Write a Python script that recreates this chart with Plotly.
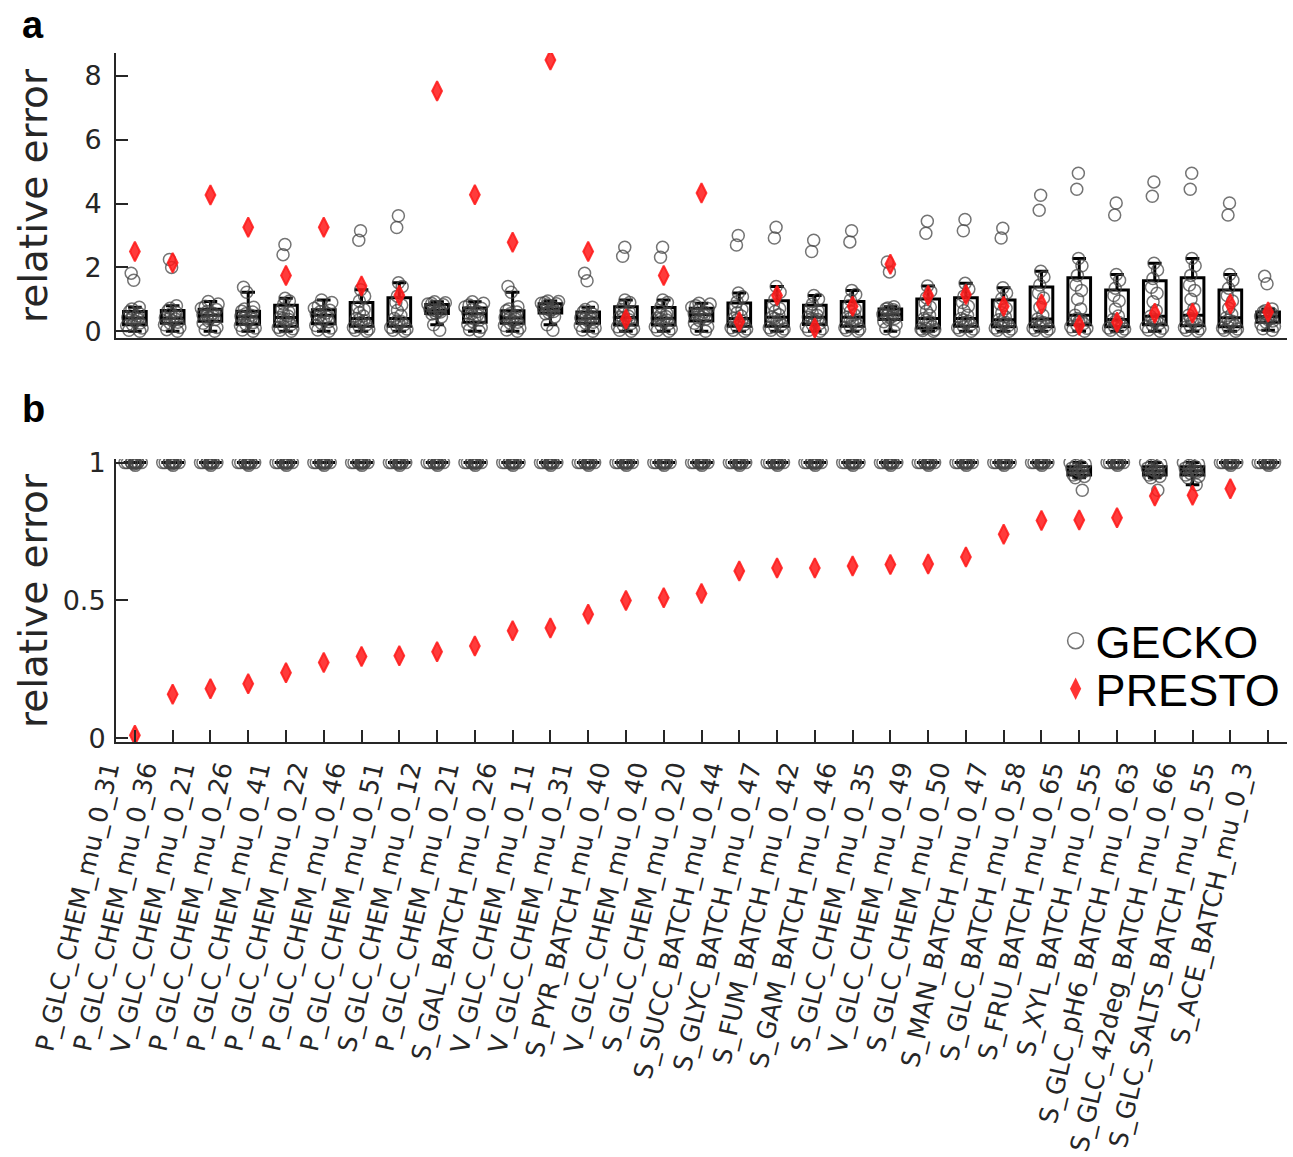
import plotly.graph_objects as go

categories = [
    "P_GLC_CHEM_mu_0_31", "P_GLC_CHEM_mu_0_36", "V_GLC_CHEM_mu_0_21", "P_GLC_CHEM_mu_0_26",
    "P_GLC_CHEM_mu_0_41", "P_GLC_CHEM_mu_0_22", "P_GLC_CHEM_mu_0_46", "P_GLC_CHEM_mu_0_51",
    "S_GLC_CHEM_mu_0_12", "P_GLC_CHEM_mu_0_21", "S_GAL_BATCH_mu_0_26", "V_GLC_CHEM_mu_0_11",
    "V_GLC_CHEM_mu_0_31", "S_PYR_BATCH_mu_0_40", "V_GLC_CHEM_mu_0_40", "S_GLC_CHEM_mu_0_20",
    "S_SUCC_BATCH_mu_0_44", "S_GLYC_BATCH_mu_0_47", "S_FUM_BATCH_mu_0_42", "S_GAM_BATCH_mu_0_46",
    "S_GLC_CHEM_mu_0_35", "V_GLC_CHEM_mu_0_49", "S_GLC_CHEM_mu_0_50", "S_MAN_BATCH_mu_0_47",
    "S_GLC_BATCH_mu_0_58", "S_FRU_BATCH_mu_0_65", "S_XYL_BATCH_mu_0_55", "S_GLC_pH6_BATCH_mu_0_63",
    "S_GLC_42deg_BATCH_mu_0_66", "S_GLC_SALTS_BATCH_mu_0_55", "S_ACE_BATCH_mu_0_3",
]

# Panel a: PRESTO relative error per condition
presto_a = [2.5, 2.15, 4.27, 3.26, 1.75, 3.26, 1.42, 1.13, 7.53, 4.28, 2.79, 8.5, 2.5, 0.38,
            1.75, 4.33, 0.3, 1.12, 0.1, 0.78, 2.1, 1.12, 1.15, 0.78, 0.85, 0.19, 0.28, 0.56,
            0.56, 0.85, 0.6]

# Panel a: GECKO relative errors (one list per condition)
gecko_a = [
    [0.0, 0.03, 0.1, 0.17, 0.2, 0.26, 0.32, 0.38, 0.4, 0.43, 0.48, 0.53, 0.57, 0.62, 0.7, 0.75, 1.6, 1.82],
    [0.0, 0.05, 0.12, 0.2, 0.25, 0.28, 0.33, 0.38, 0.4, 0.42, 0.47, 0.55, 0.6, 0.65, 0.72, 0.8, 2.0, 2.25],
    [0.0, 0.05, 0.12, 0.25, 0.33, 0.37, 0.42, 0.47, 0.5, 0.52, 0.56, 0.62, 0.68, 0.72, 0.78, 0.85, 0.93],
    [0.0, 0.04, 0.1, 0.18, 0.22, 0.27, 0.34, 0.4, 0.44, 0.47, 0.5, 0.55, 0.6, 0.63, 0.7, 0.75, 1.22, 1.38],
    [0.0, 0.03, 0.08, 0.12, 0.14, 0.2, 0.3, 0.37, 0.4, 0.43, 0.48, 0.55, 0.6, 0.7, 0.85, 0.95, 1.03, 2.4, 2.72],
    [0.0, 0.04, 0.1, 0.18, 0.25, 0.3, 0.38, 0.45, 0.5, 0.53, 0.57, 0.62, 0.66, 0.72, 0.8, 0.9, 0.98],
    [0.0, 0.03, 0.07, 0.12, 0.14, 0.2, 0.27, 0.33, 0.36, 0.4, 0.48, 0.58, 0.68, 0.75, 0.95, 1.1, 1.3, 2.85, 3.15],
    [0.0, 0.03, 0.07, 0.12, 0.14, 0.2, 0.25, 0.3, 0.32, 0.4, 0.5, 0.65, 0.82, 0.9, 1.1, 1.4, 1.52, 3.25, 3.62],
    [0.03, 0.2, 0.45, 0.54, 0.56, 0.6, 0.63, 0.65, 0.66, 0.68, 0.72, 0.78, 0.83, 0.85, 0.87, 0.89, 0.92],
    [0.0, 0.05, 0.12, 0.22, 0.3, 0.35, 0.42, 0.5, 0.55, 0.58, 0.62, 0.67, 0.72, 0.76, 0.82, 0.88, 0.92],
    [0.0, 0.04, 0.1, 0.18, 0.25, 0.28, 0.33, 0.38, 0.4, 0.43, 0.48, 0.55, 0.6, 0.64, 0.7, 0.77, 1.22, 1.4],
    [0.03, 0.2, 0.45, 0.55, 0.58, 0.62, 0.66, 0.69, 0.7, 0.72, 0.76, 0.82, 0.86, 0.88, 0.9, 0.93, 0.95],
    [0.0, 0.04, 0.1, 0.18, 0.25, 0.28, 0.33, 0.38, 0.4, 0.42, 0.46, 0.52, 0.56, 0.6, 0.68, 0.75, 1.58, 1.82],
    [0.0, 0.03, 0.08, 0.14, 0.18, 0.24, 0.3, 0.36, 0.4, 0.43, 0.48, 0.55, 0.6, 0.68, 0.8, 0.9, 0.98, 2.35, 2.63],
    [0.0, 0.03, 0.08, 0.14, 0.18, 0.24, 0.3, 0.35, 0.38, 0.41, 0.46, 0.52, 0.56, 0.65, 0.78, 0.9, 0.98, 2.32, 2.63],
    [0.0, 0.06, 0.14, 0.25, 0.34, 0.38, 0.44, 0.49, 0.52, 0.55, 0.6, 0.66, 0.71, 0.75, 0.8, 0.85, 0.88],
    [0.0, 0.03, 0.07, 0.11, 0.14, 0.2, 0.27, 0.32, 0.35, 0.4, 0.48, 0.58, 0.68, 0.78, 0.92, 1.08, 1.2, 2.7, 3.0],
    [0.0, 0.03, 0.07, 0.11, 0.14, 0.2, 0.28, 0.35, 0.4, 0.44, 0.52, 0.62, 0.71, 0.82, 1.0, 1.22, 1.4, 2.92, 3.26],
    [0.0, 0.03, 0.08, 0.15, 0.2, 0.25, 0.32, 0.37, 0.4, 0.44, 0.5, 0.57, 0.64, 0.72, 0.85, 1.0, 1.12, 2.5, 2.85],
    [0.0, 0.03, 0.07, 0.11, 0.14, 0.2, 0.28, 0.35, 0.4, 0.44, 0.52, 0.62, 0.7, 0.8, 0.98, 1.15, 1.28, 2.8, 3.15],
    [0.0, 0.08, 0.2, 0.3, 0.37, 0.4, 0.44, 0.48, 0.5, 0.53, 0.57, 0.62, 0.67, 0.7, 0.73, 0.77, 1.86, 2.17],
    [0.0, 0.02, 0.05, 0.07, 0.09, 0.15, 0.24, 0.3, 0.35, 0.4, 0.5, 0.63, 0.76, 0.88, 1.05, 1.25, 1.42, 3.07, 3.45],
    [0.0, 0.03, 0.07, 0.11, 0.14, 0.2, 0.26, 0.31, 0.35, 0.4, 0.5, 0.64, 0.78, 0.9, 1.1, 1.32, 1.5, 3.15, 3.5],
    [0.0, 0.03, 0.07, 0.1, 0.13, 0.18, 0.23, 0.27, 0.3, 0.36, 0.45, 0.58, 0.72, 0.85, 1.02, 1.2, 1.36, 2.92, 3.23],
    [0.0, 0.03, 0.07, 0.1, 0.13, 0.18, 0.23, 0.27, 0.3, 0.38, 0.5, 0.75, 1.04, 1.2, 1.45, 1.7, 1.88, 3.79, 4.26],
    [0.0, 0.04, 0.09, 0.14, 0.19, 0.24, 0.3, 0.36, 0.4, 0.5, 0.7, 1.0, 1.28, 1.45, 1.75, 2.05, 2.28, 4.45, 4.95],
    [0.0, 0.03, 0.07, 0.1, 0.13, 0.18, 0.23, 0.27, 0.3, 0.37, 0.48, 0.7, 0.95, 1.12, 1.35, 1.6, 1.78, 3.64, 4.02],
    [0.0, 0.04, 0.09, 0.14, 0.19, 0.24, 0.3, 0.35, 0.38, 0.47, 0.65, 0.92, 1.19, 1.38, 1.65, 1.92, 2.13, 4.23, 4.68],
    [0.0, 0.03, 0.08, 0.12, 0.16, 0.22, 0.3, 0.36, 0.4, 0.5, 0.7, 1.0, 1.28, 1.45, 1.75, 2.05, 2.28, 4.45, 4.95],
    [0.0, 0.03, 0.07, 0.1, 0.13, 0.18, 0.25, 0.31, 0.35, 0.42, 0.53, 0.72, 0.95, 1.12, 1.35, 1.6, 1.78, 3.64, 4.02],
    [0.03, 0.08, 0.15, 0.22, 0.28, 0.32, 0.37, 0.42, 0.45, 0.47, 0.5, 0.53, 0.56, 0.6, 0.64, 0.7, 1.49, 1.72],
]

# Panel b: PRESTO relative error (last condition not shown)
presto_b = [0.011, 0.16, 0.18, 0.198, 0.238, 0.275, 0.297, 0.299, 0.314, 0.335, 0.39, 0.40,
            0.45, 0.50, 0.51, 0.525, 0.607, 0.618, 0.618, 0.625, 0.63, 0.632, 0.658, 0.74,
            0.79, 0.792, 0.80, 0.879, 0.882, 0.905, None]

gecko_b_flat = [1.0, 1.0, 1.0, 1.0, 1.0, 1.0, 1.0, 1.0, 1.0, 1.0, 1.0, 1.0, 0.995, 0.99]
gecko_b_fru = [1.0, 0.995, 0.99, 0.985, 0.98, 0.975, 0.97, 0.97, 0.965, 0.96, 0.955, 0.95, 0.945, 0.9]
gecko_b_ph6 = [1.0, 0.995, 0.99, 0.985, 0.98, 0.975, 0.97, 0.97, 0.965, 0.96, 0.955, 0.95, 0.945, 0.9]
gecko_b_42deg = [1.0, 0.995, 0.99, 0.985, 0.98, 0.975, 0.97, 0.97, 0.965, 0.96, 0.955, 0.95, 0.945, 0.92]
gecko_b = [gecko_b_flat] * 25 + [gecko_b_fru, gecko_b_flat, gecko_b_ph6, gecko_b_42deg,
                                 gecko_b_flat, gecko_b_flat]

yticks_a = [0, 2, 4, 6, 8]
yticks_b = [0, 0.5, 1]
yticklabels_b = ["0", "0.5", "1"]
y_title = "relative error"

AX = "#262626"
YTICKFONT = dict(family="DejaVu Sans", size=27, color=AX)
XTICKFONT = dict(family="DejaVu Sans", size=25.5, color=AX)
RED = "rgba(255,25,25,0.85)"
GRAY = "rgba(70,70,70,0.75)"

fig = go.Figure()

for gdata, pdata, xa, ya in [(gecko_a, presto_a, "x", "y"), (gecko_b, presto_b, "x2", "y2")]:
    for cat, vals in zip(categories, gdata):
        fig.add_trace(go.Box(
            x=[cat] * len(vals), y=vals, xaxis=xa, yaxis=ya,
            boxpoints="all", jitter=0.9, pointpos=0, width=0.6, whiskerwidth=0.6,
            line=dict(color="black", width=3), fillcolor="rgba(0,0,0,0)",
            marker=dict(symbol="circle-open", size=12, color=GRAY, line=dict(width=1.5, color=GRAY)),
            showlegend=False, hoverinfo="y",
        ))
    fig.add_trace(go.Scatter(
        x=categories, y=pdata, xaxis=xa, yaxis=ya, mode="markers",
        marker=dict(symbol="diamond-tall", size=14, color=RED, line=dict(width=2, color=RED)),
        showlegend=False,
    ))

# legend entries (two separate legends for tight row spacing)
fig.add_trace(go.Scatter(x=[None], y=[None], xaxis="x2", yaxis="y2", mode="markers", name="GECKO",
                         legend="legend",
                         marker=dict(symbol="circle-open", size=16, color=GRAY,
                                     line=dict(width=1.5, color=GRAY))))
fig.add_trace(go.Scatter(x=[None], y=[None], xaxis="x2", yaxis="y2", mode="markers", name="PRESTO",
                         legend="legend2",
                         marker=dict(symbol="diamond-tall", size=16, color="rgb(255,51,51)")))

common_x = dict(type="category", categoryorder="array", categoryarray=categories,
                range=[-0.5, 30.5], showgrid=False, zeroline=False, automargin=False,
                showline=True, linecolor=AX, linewidth=2)

LEGFONT = dict(family="Liberation Sans", size=45, color="black")
TITLEFONT = dict(family="DejaVu Sans", size=39, color=AX)
LETTERFONT = dict(family="Liberation Sans", size=38, color="black")

fig.update_layout(
    width=1293, height=1157,
    margin=dict(l=116, r=6, t=53, b=415, autoexpand=False),
    paper_bgcolor="white", plot_bgcolor="white",
    boxmode="overlay",
    xaxis=dict(**common_x, domain=[0, 1], anchor="y", showticklabels=False, ticks=""),
    yaxis=dict(domain=[0.586, 1.0], anchor="x", range=[-0.22, 8.72], tickvals=yticks_a,
               ticks="inside", ticklen=12, tickwidth=1.5, tickcolor=AX, automargin=False,
               showline=True, linecolor=AX, linewidth=2, showgrid=False, zeroline=False,
               tickfont=YTICKFONT, ticklabelstandoff=7),
    xaxis2=dict(**common_x, domain=[0, 1], anchor="y2", ticks="inside", ticklen=12,
                tickwidth=1.5, tickcolor=AX, tickangle=-77, tickfont=XTICKFONT,
                ticklabelstandoff=0, ticklabelshift=-28),
    yaxis2=dict(domain=[0.0, 0.4107], anchor="x2", range=[-0.0135, 1.013], tickvals=yticks_b,
                ticktext=yticklabels_b, ticks="inside", ticklen=12, tickwidth=1.5, tickcolor=AX,
                showline=True, linecolor=AX, linewidth=2, showgrid=False, zeroline=False,
                tickfont=YTICKFONT, ticklabelstandoff=3, automargin=False),
    legend=dict(x=0.8024, xanchor="left", y=0.1466, yanchor="middle", font=LEGFONT,
                bgcolor="rgba(0,0,0,0)", itemsizing="trace"),
    legend2=dict(x=0.8024, xanchor="left", y=0.0769, yanchor="middle", font=LEGFONT,
                 bgcolor="rgba(0,0,0,0)", itemsizing="trace"),
    annotations=[
        dict(text="<b>a</b>", x=-0.082, y=1.0734, xref="paper", yref="paper", showarrow=False,
             xanchor="left", yanchor="top", font=LETTERFONT),
        dict(text="<b>b</b>", x=-0.082, y=0.5167, xref="paper", yref="paper", showarrow=False,
             xanchor="left", yanchor="top", font=LETTERFONT),
        dict(text=y_title, x=-0.0705, y=0.7932, xref="paper", yref="paper", showarrow=False,
             textangle=-90, xanchor="center", yanchor="middle", font=TITLEFONT),
        dict(text=y_title, x=-0.0705, y=0.2054, xref="paper", yref="paper", showarrow=False,
             textangle=-90, xanchor="center", yanchor="middle", font=TITLEFONT),
    ],
)

fig.write_html("out.html", config={"displayModeBar": False},
               post_script="document.body.style.margin='0';")
